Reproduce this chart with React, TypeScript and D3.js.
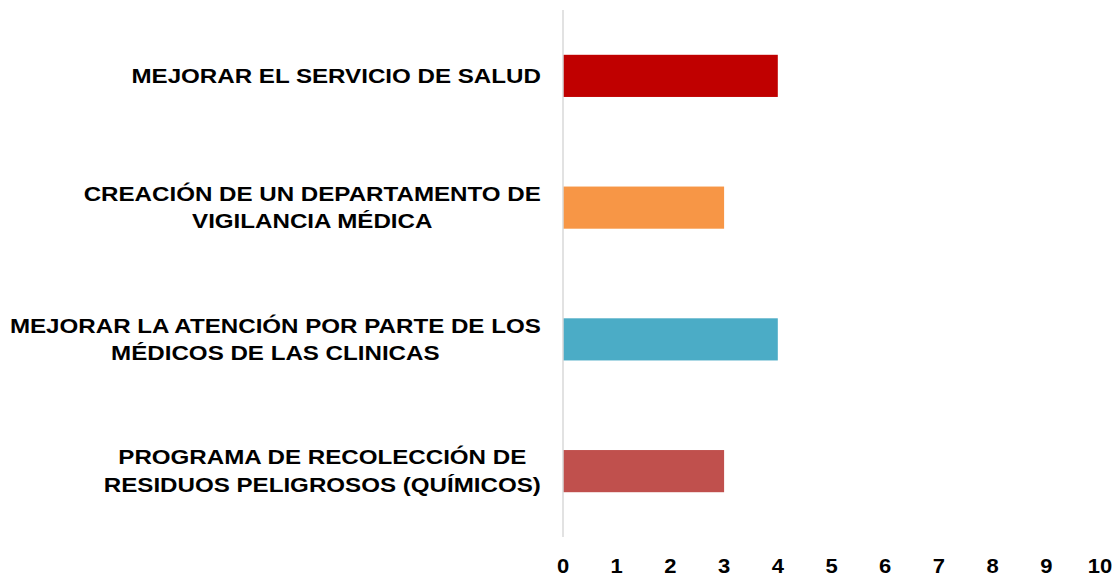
import React, { useEffect, useRef } from "react";
import * as d3 from "d3";

const categories: string[][] = [
  ["MEJORAR EL SERVICIO DE SALUD"],
  ["CREACIÓN DE UN DEPARTAMENTO DE", "VIGILANCIA MÉDICA"],
  ["MEJORAR LA ATENCIÓN POR PARTE DE LOS", "MÉDICOS DE LAS CLINICAS"],
  ["PROGRAMA DE RECOLECCIÓN DE", "RESIDUOS PELIGROSOS (QUÍMICOS)"],
];
const values: number[] = [4, 3, 4, 3];
const colors: string[] = ["#C00000", "#F79646", "#4BACC6", "#C0504D"];
const ticks: number[] = [0, 1, 2, 3, 4, 5, 6, 7, 8, 9, 10];

const W = 1118;
const H = 578;

export default function App() {
  const ref = useRef<SVGSVGElement>(null);
  useEffect(() => {
    const svg = d3.select(ref.current);
    svg.selectAll("*").remove();
    const x = d3.scaleLinear().domain([0, 10]).range([563, 1100]);
    const y = d3
      .scaleBand<number>()
      .domain(d3.range(categories.length))
      .range([10, 537])
      .paddingInner(0.68)
      .paddingOuter(0.34);

    svg
      .append("g")
      .selectAll("rect")
      .data(values)
      .join("rect")
      .attr("x", x(0))
      .attr("y", (_, i) => y(i)!)
      .attr("width", (d) => x(d) - x(0))
      .attr("height", y.bandwidth())
      .attr("fill", (_, i) => colors[i]);

    svg
      .append("line")
      .attr("x1", x(0))
      .attr("x2", x(0))
      .attr("y1", 10)
      .attr("y2", 537)
      .attr("stroke", "#d9d9d9")
      .attr("stroke-width", 1.5);

    const tickSx = 1.1;
    svg
      .append("g")
      .selectAll("text")
      .data(ticks)
      .join("text")
      .attr("transform", (d) => `translate(${x(d)},573) scale(${tickSx},1)`)
      .attr("text-anchor", "middle")
      .attr("font-family", "Liberation Sans, Arial, sans-serif")
      .attr("font-weight", "bold")
      .attr("font-size", 20)
      .attr("fill", "#000")
      .text((d) => String(d));

    const fontSize = 21;
    const sx = 1.15;
    const lh = 27.5;
    const rightEdge = 541;
    categories.forEach((lines, i) => {
      const g = svg.append("g");
      const cy = y(i)! + y.bandwidth() / 2;
      const texts = lines.map((l) =>
        g
          .append("text")
          .attr("font-family", "Liberation Sans, Arial, sans-serif")
          .attr("font-weight", "bold")
          .attr("font-size", fontSize)
          .attr("fill", "#000")
          .attr("text-anchor", "middle")
          .attr("dominant-baseline", "central")
          .text(l)
      );
      const maxW =
        (d3.max(texts, (t) => (t.node() as SVGTextElement).getComputedTextLength()) || 0) * sx;
      texts.forEach((t, j) => {
        const ty = cy + (j - (lines.length - 1) / 2) * lh;
        t.attr("transform", `translate(${rightEdge - maxW / 2},${ty}) scale(${sx},1)`);
      });
    });
  }, []);
  return <svg ref={ref} width={W} height={H} style={{ position: "absolute", left: 0, top: 0 }} />;
}
